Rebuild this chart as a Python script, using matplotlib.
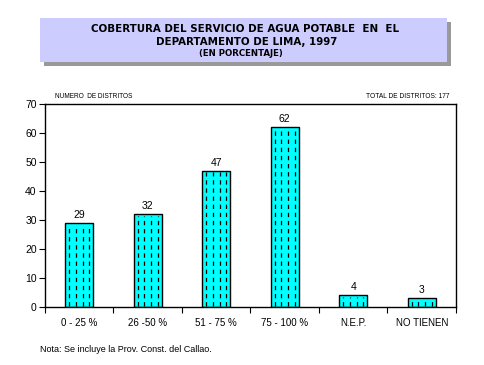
import matplotlib
matplotlib.use("Agg")
import matplotlib.pyplot as plt
from matplotlib.patches import Rectangle

categories = ["0 - 25 %", "26 -50 %", "51 - 75 %", "75 - 100 %", "N.E.P.", "NO TIENEN"]
values = [29, 32, 47, 62, 4, 3]
yticks = [0, 10, 20, 30, 40, 50, 60, 70]

plt.rcParams['font.family'] = ['Liberation Sans', 'DejaVu Sans']

fig = plt.figure(figsize=(4.85, 3.65), dpi=100)
W, H = 485, 365

def fx(x): return x / W
def fy(y): return 1 - y / H

shadow = Rectangle((fx(44), fy(66)), fx(447) - fx(40), fy(18) - fy(62),
                   transform=fig.transFigure, facecolor='#999999', edgecolor='none', zorder=0)
box = Rectangle((fx(40), fy(62)), fx(447) - fx(40), fy(18) - fy(62),
                transform=fig.transFigure, facecolor='#CCCCFF', edgecolor='none', zorder=1)
fig.patches.extend([shadow, box])
fig.text(fx(245), fy(29), "COBERTURA DEL SERVICIO DE AGUA POTABLE  EN  EL",
         ha='center', va='center', fontsize=7.4, fontweight='bold', family='DejaVu Sans', zorder=2)
fig.text(fx(247), fy(42), "DEPARTAMENTO DE LIMA, 1997",
         ha='center', va='center', fontsize=7.4, fontweight='bold', family='DejaVu Sans', zorder=2)
fig.text(fx(241), fy(54), "(EN PORCENTAJE)",
         ha='center', va='center', fontsize=6.2, fontweight='bold', family='DejaVu Sans', zorder=2)

ax = fig.add_axes([fx(45), fy(307), fx(456) - fx(45), fy(104) - fy(307)])
x = list(range(len(categories)))
bw = 0.41
bars = ax.bar(x, values, width=bw, color='#00FFFF', edgecolor='black', linewidth=1.0, zorder=2)
for b in bars:
    x0 = b.get_x()
    w = b.get_width()
    h = b.get_height()
    for k in range(4):
        xx = x0 + w * (0.14 + k * 0.24)
        ax.plot([xx, xx], [0.3, h - 0.6], color='black', linewidth=0.9,
                linestyle=(0, (3.5, 3)), zorder=3)
for xi, v in zip(x, values):
    ax.text(xi, v + 1.0, str(v), ha='center', va='bottom', fontsize=7.5)

ax.set_xlim(-0.5, len(categories) - 0.5)
ax.set_ylim(0, 70)
ax.set_yticks(yticks)
ax.set_yticklabels([str(t) for t in yticks], fontsize=7.5)
ax.set_xticks([i + 0.5 for i in range(-1, len(categories))], minor=False)
ax.set_xticklabels([])
ax.set_xticks(x, minor=True)
ax.set_xticklabels(categories, minor=True, fontsize=7)
ax.tick_params(axis='x', which='minor', length=0, pad=8)
ax.tick_params(axis='x', which='major', length=4, width=0.8, direction='out')
ax.tick_params(axis='y', length=4, width=0.8, direction='out', pad=2)
for s in ax.spines.values():
    s.set_linewidth(1.0)

fig.text(fx(55), fy(96), "NUMERO  DE DISTRITOS", fontsize=4.7, va='center', ha='left')
fig.text(fx(450), fy(96), "TOTAL DE DISTRITOS: 177", fontsize=4.8, va='center', ha='right')
fig.text(fx(40), fy(350), "Nota: Se incluye la Prov. Const. del Callao.", fontsize=6.5, va='center', ha='left')

fig.savefig("out.png", dpi=100)
